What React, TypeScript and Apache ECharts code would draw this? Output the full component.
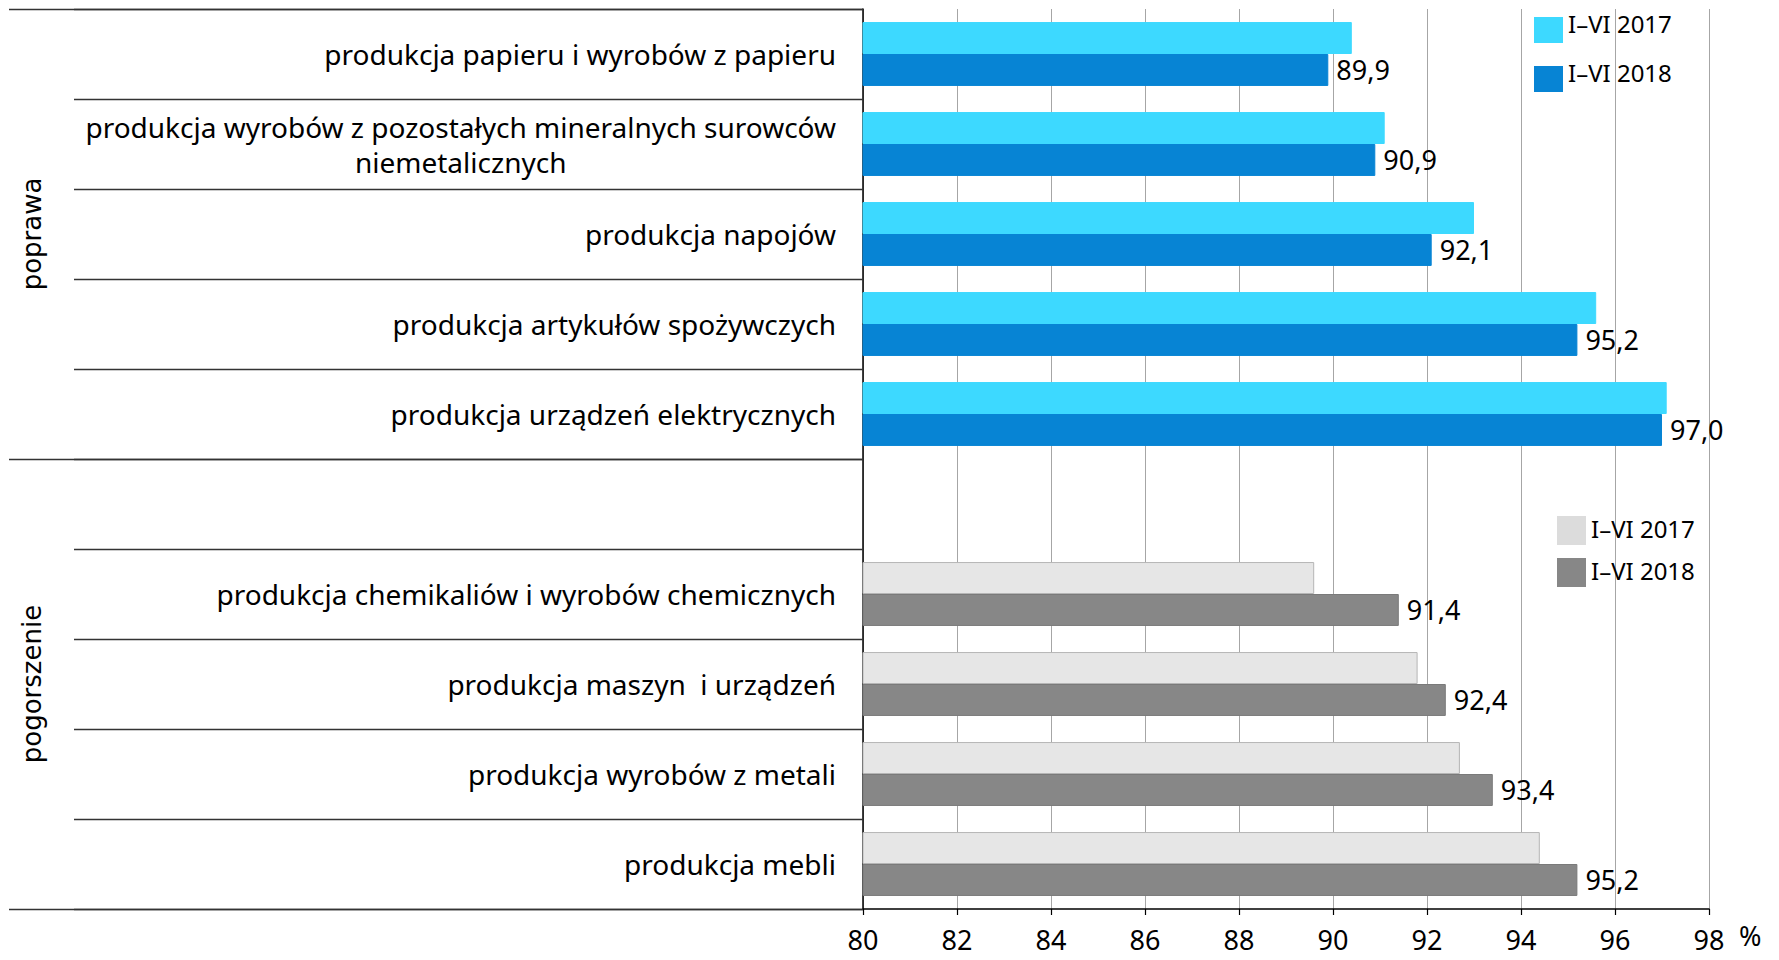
import React, { useEffect, useRef } from 'react';
import * as echarts from 'echarts';

const categories = [
  'produkcja papieru i wyrobów z papieru',
  'produkcja wyrobów z pozostałych mineralnych surowców\nniemetalicznych',
  'produkcja napojów',
  'produkcja artykułów spożywczych',
  'produkcja urządzeń elektrycznych',
  '',
  'produkcja chemikaliów i wyrobów chemicznych',
  'produkcja maszyn  i urządzeń',
  'produkcja wyrobów z metali',
  'produkcja mebli',
];
const categoryGroup = ['up', 'up', 'up', 'up', 'up', 'down', 'down', 'down', 'down', 'down'];
const groupLabels = ['poprawa', 'pogorszenie'];
const values2017 = [90.4, 91.1, 93.0, 95.6, 97.1, null, 89.6, 91.8, 92.7, 94.4];
const values2018 = [89.9, 90.9, 92.1, 95.2, 97.0, null, 91.4, 92.4, 93.4, 95.2];
const seriesNames = ['I–VI 2017', 'I–VI 2018'];
const xMin = 80;
const xMax = 98;
const xInterval = 2;
const unitLabel = '%';

const colors: Record<string, string[]> = {
  up: ['#3DD9FF', '#0784D4'],
  down: ['#E6E6E6', '#878787'],
};
const borders: Record<string, string[]> = {
  up: ['#3DD9FF', '#0784D4'],
  down: ['#B5B5B5', '#7A7A7A'],
};

const FONT = 'Noto Sans';

export default function App() {
  const ref = useRef<HTMLDivElement>(null);
  useEffect(() => {
    if (!ref.current) return;
    const chart = echarts.init(ref.current, null, { renderer: 'svg' });
    const makeData = (vals: (number | null)[], s: number) =>
      vals.map((v, i) =>
        v == null
          ? '-'
          : {
              value: v,
              itemStyle: {
                color: colors[categoryGroup[i]][s],
                borderColor: borders[categoryGroup[i]][s],
                borderWidth: 1,
              },
            }
      );
    const legendTextUp = {
      fontFamily: FONT,
      fontSize: 24,
      color: '#000',
      rich: {
        t: { fontFamily: FONT, fontSize: 24, color: '#000', padding: [0, 0, 14, 0] },
      },
    };
    const legendTextDown = {
      fontFamily: FONT,
      fontSize: 24,
      color: '#000',
      rich: {
        t: { fontFamily: FONT, fontSize: 24, color: '#000', padding: [0, 0, 4, 0] },
      },
    };
    chart.setOption({
      animation: false,
      backgroundColor: '#fff',
      textStyle: { fontFamily: FONT },
      grid: { left: 863, right: 70, top: 9, bottom: 51, containLabel: false },
      legend: [
        {
          orient: 'vertical',
          left: 1529,
          top: 6,
          itemWidth: 29,
          itemHeight: 26,
          itemGap: 17,
          icon: 'rect',
          selectedMode: false,
          formatter: (n: string) => `{t|${n}}`,
          textStyle: legendTextUp,
          data: [
            { name: seriesNames[0], itemStyle: { color: colors.up[0], borderWidth: 0 } },
            { name: seriesNames[1], itemStyle: { color: colors.up[1], borderWidth: 0 } },
          ],
        },
        {
          orient: 'vertical',
          left: 1552,
          top: 511,
          itemWidth: 29,
          itemHeight: 29,
          itemGap: 13,
          icon: 'rect',
          selectedMode: false,
          formatter: (n: string) => `{t|${n}}`,
          textStyle: legendTextDown,
          data: [
            { name: seriesNames[0], itemStyle: { color: '#DCDCDC', borderWidth: 0 } },
            { name: seriesNames[1], itemStyle: { color: colors.down[1], borderWidth: 0 } },
          ],
        },
      ],
      xAxis: {
        type: 'value',
        min: xMin,
        max: xMax,
        interval: xInterval,
        name: unitLabel,
        nameLocation: 'end',
        nameGap: 30,
        nameTextStyle: {
          fontFamily: FONT,
          fontSize: 27,
          color: '#000',
          verticalAlign: 'top',
          lineHeight: 27,
          padding: [13, 0, 0, 0],
        },
        axisLine: { show: true, lineStyle: { color: '#000', width: 1.5 } },
        axisTick: { show: true, length: 6, lineStyle: { color: '#000', width: 1.2 } },
        splitLine: { show: true, lineStyle: { color: '#A6A6A6', width: 1 } },
        axisLabel: {
          fontFamily: FONT,
          fontSize: 27,
          lineHeight: 27,
          color: '#000',
          margin: 17,
          formatter: (v: number) => String(v),
        },
      },
      yAxis: [
        {
          type: 'category',
          data: categories,
          inverse: true,
          position: 'left',
          axisLine: { show: true, lineStyle: { color: '#000', width: 1.5 } },
          axisTick: { show: true, length: 789, lineStyle: { color: '#333', width: 1.3 } },
          splitLine: { show: false },
          axisLabel: {
            interval: 0,
            margin: 27,
            fontFamily: FONT,
            fontSize: 28,
            color: '#000',
            lineHeight: 35,
            align: 'right',
            formatter: (v: string) =>
              v.includes('\n')
                ? v
                    .split('\n')
                    .map((l, i) => (i === 0 ? `{r|${l}}` : `{c|${l}}`))
                    .join('\n')
                : v,
            rich: {
              r: { fontFamily: FONT, fontSize: 28, color: '#000', lineHeight: 35, align: 'right' },
              c: { fontFamily: FONT, fontSize: 28, color: '#000', lineHeight: 35, align: 'center' },
            },
          },
        },
        {
          type: 'category',
          data: groupLabels,
          inverse: true,
          position: 'left',
          axisLine: { show: false },
          axisTick: { show: true, length: 854, lineStyle: { color: '#333', width: 1.3 } },
          splitLine: { show: false },
          axisLabel: {
            interval: 0,
            rotate: 90,
            margin: 818,
            fontFamily: 'DejaVu Sans',
            fontSize: 26,
            color: '#000',
          },
        },
      ],
      series: [
        {
          name: seriesNames[0],
          type: 'bar',
          yAxisIndex: 0,
          barGap: '0%',
          barCategoryGap: '29%',
          data: makeData(values2017, 0),
          itemStyle: { color: colors.up[0] },
        },
        {
          name: seriesNames[1],
          type: 'bar',
          yAxisIndex: 0,
          barGap: '0%',
          barCategoryGap: '29%',
          data: makeData(values2018, 1),
          itemStyle: { color: colors.up[1] },
          label: {
            show: true,
            position: 'right',
            distance: 8,
            fontFamily: FONT,
            fontSize: 27,
            color: '#000',
            formatter: (p: any) => Number(p.value).toFixed(1).replace('.', ','),
          },
        },
      ],
    });
    return () => chart.dispose();
  }, []);
  return (
    <div
      ref={ref}
      style={{ position: 'fixed', left: 0, top: 0, width: 1779, height: 960, background: '#fff' }}
    />
  );
}
